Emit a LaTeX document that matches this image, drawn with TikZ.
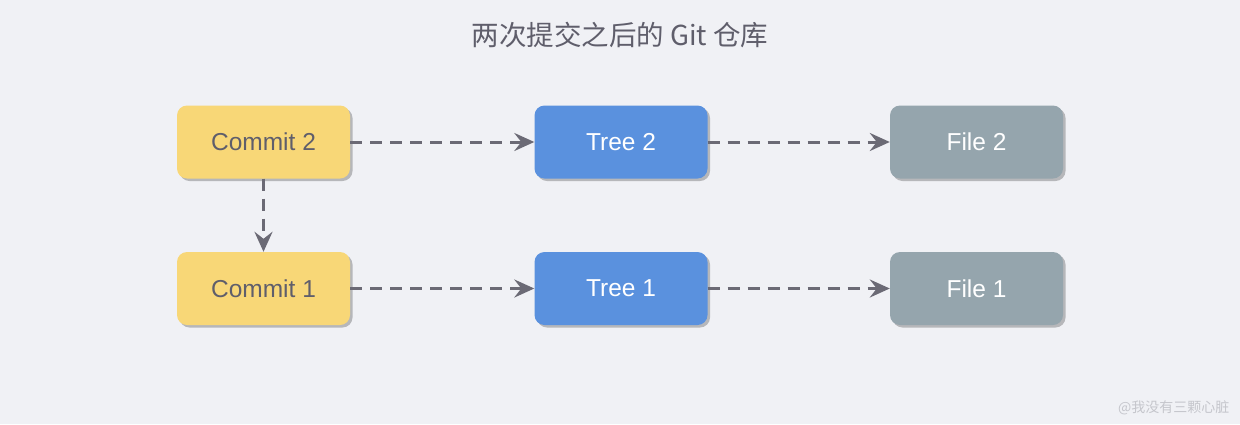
\documentclass[tikz,border=0pt]{standalone}
\usepackage{fontspec}
\setmainfont{Liberation Sans}
\newfontfamily\cjk{Noto Sans CJK SC}
\usetikzlibrary{arrows.meta,shadows}
\definecolor{bg}{HTML}{F0F1F5}
\definecolor{cyel}{HTML}{F8D777}
\definecolor{cblue}{HTML}{5A91DE}
\definecolor{cgrey}{HTML}{95A5AD}
\definecolor{ctext}{HTML}{5F5E6B}
\definecolor{carrow}{HTML}{6B6A75}
\definecolor{cwm}{HTML}{C5C6CC}
\begin{document}
\begin{tikzpicture}[x=1pt,y=-1pt,
  box/.style={rounded corners=10pt, minimum width=173pt, minimum height=73pt,
    font=\fontsize{24.5}{28}\selectfont, inner sep=0pt,
    drop shadow={shadow xshift=2.5pt, shadow yshift=-2.5pt, opacity=0.35, fill=black!70}},
  commitbox/.style={box, fill=cyel, text=ctext},
  treebox/.style={box, fill=cblue, text=white},
  filebox/.style={box, fill=cgrey, text=white},
  link/.style={draw=carrow, line width=3pt, dash pattern=on 12pt off 8pt,
    -{Stealth[length=20pt,width=18pt,inset=7pt]}}]
\fill[bg] (0,0) rectangle (1240,424);
\useasboundingbox (0,0) rectangle (1240,424);
\node[text=ctext, font=\cjk\fontsize{27.5}{30}\selectfont] (title) at (620,35) {两次提交之后的 Git 仓库};
\node[commitbox] (c2) at (263.5,142) {Commit 2};
\node[treebox] (t2) at (621,142) {Tree 2};
\node[filebox] (f2) at (976.5,142) {File 2};
\node[commitbox] (c1) at (263.5,288.5) {Commit 1};
\node[treebox] (t1) at (621,288.5) {Tree 1};
\node[filebox] (f1) at (976.5,288.5) {File 1};
\draw[link] (c2.east) -- (t2.west);
\draw[link] (t2.east) -- (f2.west);
\draw[link] (c1.east) -- (t1.west);
\draw[link] (t1.east) -- (f1.west);
\draw[link] (c2.south) -- (c1.north);
\node[text=cwm, font=\cjk\fontsize{14}{16}\selectfont, anchor=east] (wm) at (1233,408) {@我没有三颗心脏};
\end{tikzpicture}
\end{document}
